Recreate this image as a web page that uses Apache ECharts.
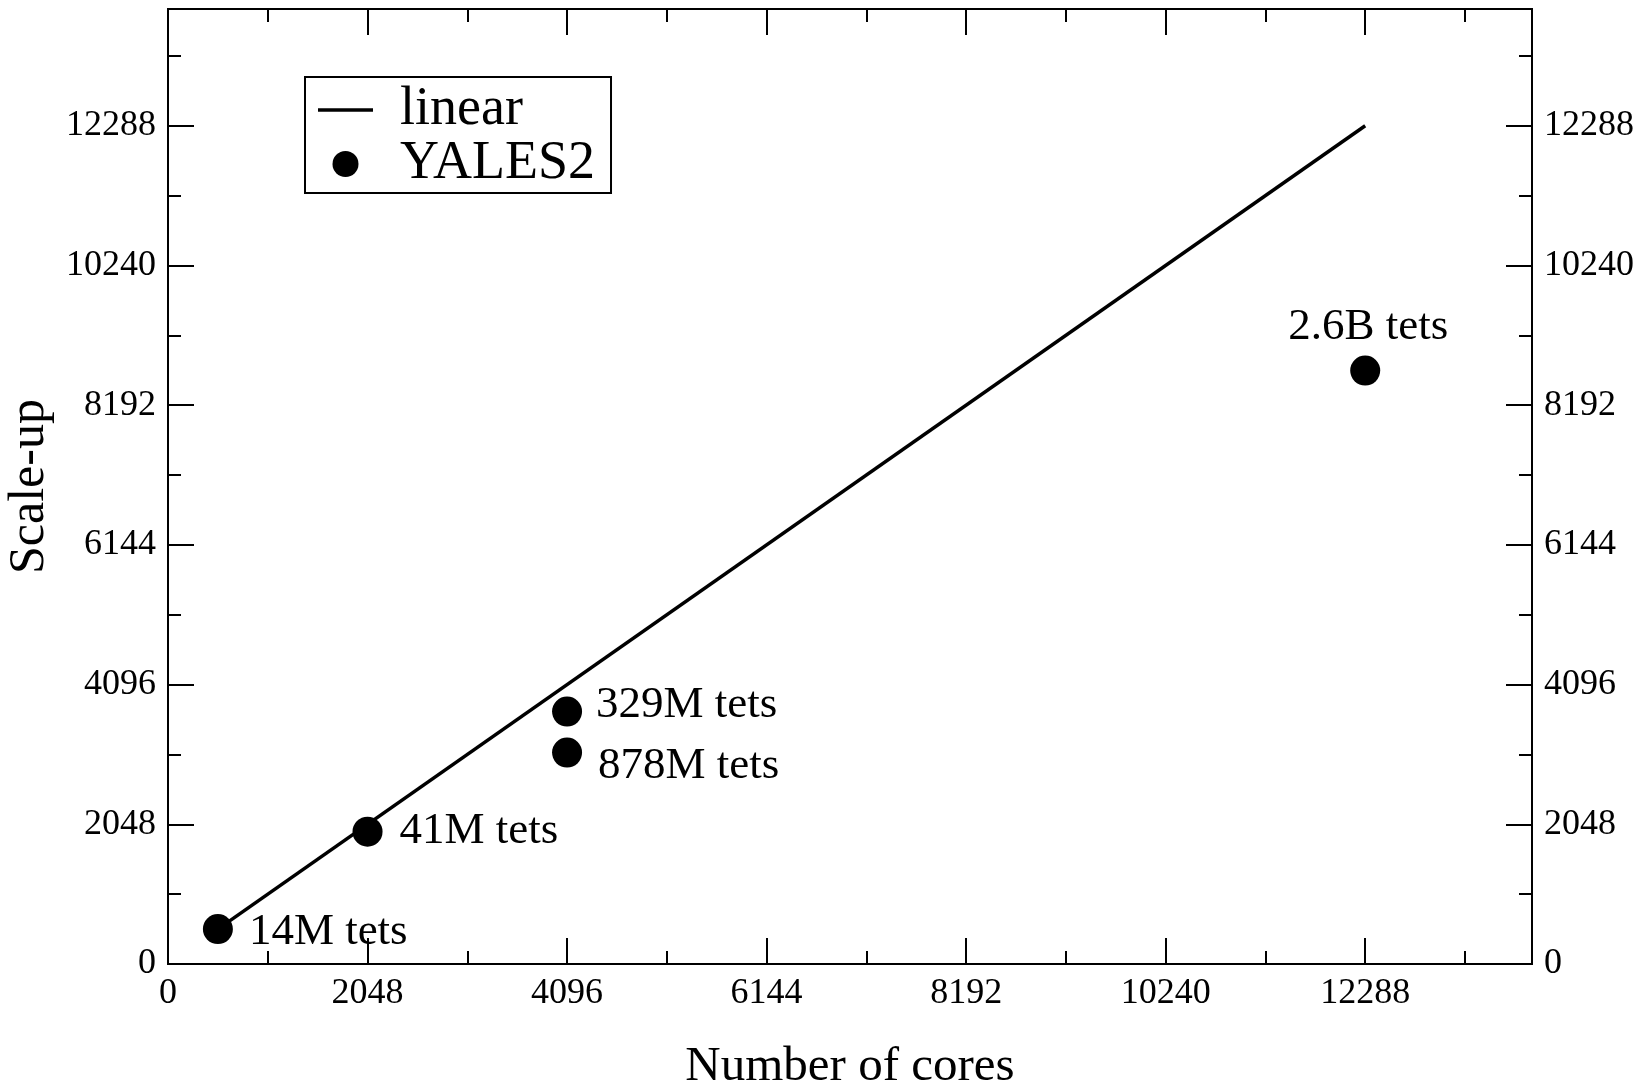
<!DOCTYPE html>
<html>
<head>
<meta charset="utf-8">
<script src="https://cdn.jsdelivr.net/npm/echarts@6/dist/echarts.min.js"></script>
<style>
  html, body { margin: 0; padding: 0; background: #fff; }
  #chart { width: 1648px; height: 1081px; }
</style>
</head>
<body>
<div id="chart"></div>
<script>
// Measured runs: number of cores vs. scale-up for each mesh size
const cores = [512, 2048, 4096, 4096, 12288];
const scaleUp = [512, 1940, 3700, 3100, 8700];
const meshLabels = ['14M tets', '41M tets', '329M tets', '878M tets', '2.6B tets'];

// Ideal (linear) scaling reference
const linearCores = [512, 12288];
const linearScaleUp = [512, 12288];

// Labelled ticks shared by both axes
const tickValues = [0, 2048, 4096, 6144, 8192, 10240, 12288];
const axisMax = 14000;

const FONT = '"Liberation Serif", "DejaVu Serif", serif';

// where each point's mesh-size label sits
const labelPlacement = [
  { position: 'right', distance: 16, offset: [0, 3] },
  { position: 'right', distance: 17, offset: [0, 0] },
  { position: 'right', distance: 14, offset: [0, -6] },
  { position: 'right', distance: 16, offset: [0, 14] },
  { position: 'top', distance: 6, offset: [3, 0] }
];

// Each side of the frame gets two overlaid axes: long ticks every 2048
// (optionally labelled) and short ticks every 1024.
function frameAxis(position, kind, labelled) {
  const major = kind === 'major';
  const ax = {
    type: 'value',
    position: position,
    min: 0,
    max: axisMax,
    interval: major ? 2048 : 1024,
    splitLine: { show: false },
    axisLine: { show: true, onZero: false, lineStyle: { color: '#000', width: 2 } },
    axisTick: {
      show: true,
      inside: true,
      length: major ? 26 : 13,
      lineStyle: { color: '#000', width: 2 }
    },
    axisLabel: { show: false }
  };
  if (major) {
    ax.axisTick.customValues = tickValues;
  }
  if (labelled) {
    ax.axisLabel = {
      show: true,
      customValues: tickValues,
      formatter: v => String(v),
      color: '#000',
      fontFamily: FONT,
      fontSize: 36,
      margin: 12
    };
  }
  return ax;
}

const xBottom = frameAxis('bottom', 'major', true);
xBottom.name = 'Number of cores';
xBottom.nameLocation = 'middle';
xBottom.nameGap = 79;
xBottom.nameTextStyle = { color: '#000', fontFamily: FONT, fontSize: 49 };

const yLeft = frameAxis('left', 'major', true);
yLeft.name = 'Scale-up';
yLeft.nameLocation = 'middle';
yLeft.nameGap = 101;
yLeft.nameTextStyle = { color: '#000', fontFamily: FONT, fontSize: 50 };

const xAxes = [
  xBottom,
  frameAxis('bottom', 'minor', false),
  frameAxis('top', 'major', false),
  frameAxis('top', 'minor', false)
];
const yAxes = [
  yLeft,
  frameAxis('left', 'minor', false),
  frameAxis('right', 'major', true),
  frameAxis('right', 'minor', false)
];

const linearData = linearCores.map((c, i) => [c, linearScaleUp[i]]);
const runData = cores.map((c, i) => ({
  value: [c, scaleUp[i]],
  name: meshLabels[i],
  label: Object.assign({}, labelPlacement[i])
}));

const chart = echarts.init(document.getElementById('chart'), null, { renderer: 'canvas' });
chart.setOption({
  animation: false,
  backgroundColor: '#fff',
  textStyle: { fontFamily: FONT },
  grid: {
    left: 168, right: 116, top: 9, bottom: 117,
    containLabel: false,
    outerBoundsMode: 'none'
  },
  xAxis: xAxes,
  yAxis: yAxes,
  legend: {
    data: [
      { name: 'linear', icon: 'path://M0,0H55V3.5H0Z' },
      { name: 'YALES2', icon: 'circle' }
    ],
    orient: 'vertical',
    left: 305,
    top: 77,
    borderColor: '#000',
    borderWidth: 2,
    borderRadius: 0,
    padding: [6, 16, 2, 13],
    itemWidth: 55,
    itemHeight: 26,
    itemGap: 0,
    selectedMode: false,
    itemStyle: { color: '#000', opacity: 1 },
    lineStyle: { opacity: 1 },
    textStyle: {
      color: '#000',
      fontFamily: FONT,
      fontSize: 54,
      lineHeight: 52,
      padding: [0, 0, 0, 22]
    }
  },
  series: [
    {
      name: 'linear',
      type: 'line',
      xAxisIndex: 0,
      yAxisIndex: 0,
      data: linearData,
      symbol: 'none',
      lineStyle: { color: '#000', width: 3.5 },
      itemStyle: { color: '#000' },
      z: 2
    },
    {
      name: 'YALES2',
      type: 'scatter',
      xAxisIndex: 0,
      yAxisIndex: 0,
      data: runData,
      symbol: 'circle',
      symbolSize: 30,
      itemStyle: { color: '#000', opacity: 1 },
      label: {
        show: true,
        formatter: p => p.name,
        color: '#000',
        opacity: 1,
        fontFamily: FONT,
        fontSize: 45
      },
      z: 3
    }
  ]
});
</script>
</body>
</html>
